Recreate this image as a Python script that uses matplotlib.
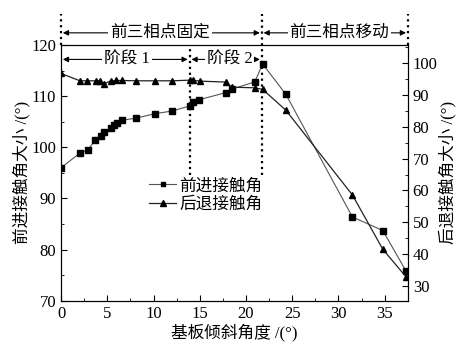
import numpy as np
import matplotlib
matplotlib.use('Agg')
import matplotlib.pyplot as plt
from matplotlib.ticker import MultipleLocator

plt.rcParams['font.family'] = ['Liberation Serif', 'Noto Sans CJK SC']
plt.rcParams['axes.unicode_minus'] = False

# advancing contact angle (left axis)
adv_x = [0, 2.05, 2.9, 3.7, 4.3, 4.7, 5.4, 5.7, 6.1, 6.55, 8.1, 10.2, 12.0, 13.9,
         14.25, 14.9, 17.8, 18.5, 20.95, 21.8, 24.3, 31.5, 34.8, 37.3]
adv_y = [96.0, 98.9, 99.5, 101.4, 102.2, 103.0, 103.8, 104.3, 104.7, 105.3, 105.7,
         106.6, 107.1, 108.1, 108.8, 109.3, 110.7, 111.4, 112.8, 116.3, 110.4,
         86.4, 83.7, 75.8]

# receding contact angle (right axis)
rec_x = [0, 2.05, 2.85, 3.75, 4.2, 4.7, 5.4, 5.9, 6.6, 8.15, 10.2, 12.05, 13.9,
         14.25, 15.0, 17.8, 18.5, 20.95, 21.8, 24.3, 31.5, 34.8, 37.3]
rec_y = [96.7, 94.4, 94.4, 94.4, 94.4, 93.5, 94.4, 94.5, 94.5, 94.4, 94.4, 94.4,
         94.6, 94.6, 94.3, 94.0, 92.4, 92.2, 91.7, 85.2, 58.6, 41.5, 32.9]

stage_lines = [13.9, 21.7]

fig = plt.figure(figsize=(4.64, 3.47), dpi=100)
ax = fig.add_axes([0.1315, 0.1334, 0.879 - 0.1315, 0.870 - 0.1334])
ax2 = ax.twinx()

l1, = ax.plot(adv_x, adv_y, '-s', color='#555555', lw=0.8, ms=4,
              mfc='black', mec='black', label='前进接触角')
l2, = ax2.plot(rec_x, rec_y, '-^', color='#222222', lw=0.9, ms=5,
               mfc='black', mec='black', label='后退接触角')

ax.set_xlim(0, 37.5)
ax.set_ylim(70, 120)
ax2.set_ylim(25.4, 105.6)

ax.xaxis.set_major_locator(MultipleLocator(5))
ax.xaxis.set_minor_locator(MultipleLocator(2.5))
ax.yaxis.set_major_locator(MultipleLocator(10))
ax.yaxis.set_minor_locator(MultipleLocator(5))
ax2.yaxis.set_major_locator(MultipleLocator(10))
ax2.yaxis.set_minor_locator(MultipleLocator(5))

for a in (ax, ax2):
    a.tick_params(which='both', direction='in', labelsize=12)
    a.tick_params(which='major', length=4)
    a.tick_params(which='minor', length=2.5)
ax.tick_params(axis='x', pad=4)

ax.set_xlabel('基板倾斜角度 /(°)', fontsize=12, labelpad=1)
ax.set_ylabel('前进接触角大小 /(°)', fontsize=12, labelpad=1)
ax2.set_ylabel('后退接触角大小 /(°)', fontsize=12, labelpad=1)

# dotted boundary lines
for xv in stage_lines:
    ax.plot([xv, xv], [94.5, 120 if xv < 20 else 126], ':', color='black',
            lw=1.6, clip_on=False)
for xv in [0, 37.5]:
    ax.plot([xv, xv], [120, 126], ':', color='black', lw=1.6, clip_on=False)

def span(a, x0, x1, y, text, tx):
    a.annotate('', xy=(x0 + 0.2, y), xytext=(x1 - 0.2, y),
               arrowprops=dict(arrowstyle='<|-|>', color='black', lw=0.8,
                               mutation_scale=8, shrinkA=0, shrinkB=0),
               annotation_clip=False)
    a.text(tx, y, text, ha='center', va='center', fontsize=12,
           bbox=dict(facecolor='white', edgecolor='none', pad=1.5), clip_on=False)

span(ax, 0, stage_lines[1], 122.4, '前三相点固定', 10.7)
span(ax, stage_lines[1], 37.5, 122.4, '前三相点移动', 30.1)
span(ax, 0, stage_lines[0], 117.2, '阶段 1', 7.1)
span(ax, stage_lines[0], stage_lines[1], 117.2, '阶段 2', 18.2)

ax2.legend(handles=[l1, l2], loc='upper left', bbox_to_anchor=(0.235, 0.505),
           frameon=False, fontsize=12, handlelength=1.6, handletextpad=0.2,
           labelspacing=0.15, borderaxespad=0, markerscale=0.8)

plt.savefig('out.png', dpi=100)
